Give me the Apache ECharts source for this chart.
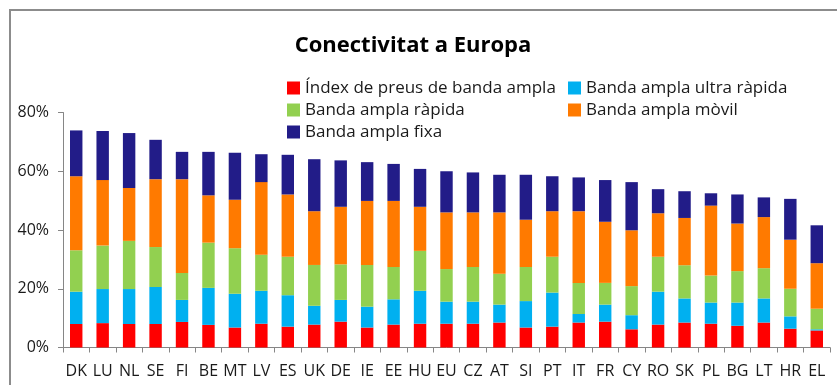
<!DOCTYPE html>
<html>
<head>
<meta charset="utf-8">
<script src="https://cdn.jsdelivr.net/npm/echarts@6/dist/echarts.min.js"></script>
<style>
  html, body { margin: 0; padding: 0; background: #fff; }
  #chart { width: 837px; height: 385px; }
</style>
</head>
<body>
<div id="chart"></div>
<script>
// Countries, ordered by total score
var countries = ['DK','LU','NL','SE','FI','BE','MT','LV','ES','UK','DE','IE','EE','HU','EU','CZ','AT','SI','PT','IT','FR','CY','RO','SK','PL','BG','LT','HR','EL'];

// Stacked components (percentage points)
var indexPreus   = [8.0, 8.3, 8.0, 8.0, 8.7, 7.7, 6.8, 8.1, 7.1, 7.8, 8.8, 6.8, 7.8, 8.1, 8.1, 8.1, 8.5, 6.8, 7.1, 8.5, 8.8, 6.2, 7.8, 8.5, 8.1, 7.4, 8.5, 6.4, 5.8];
var ultraRapida  = [11.0, 11.6, 11.9, 12.6, 7.5, 12.6, 11.5, 11.2, 10.7, 6.4, 7.4, 7.1, 8.6, 11.2, 7.5, 7.5, 6.1, 9.0, 11.6, 2.9, 5.8, 4.8, 11.2, 8.2, 7.2, 7.9, 8.2, 4.2, 0.4];
var rapida       = [14.1, 14.8, 16.4, 13.6, 9.2, 15.4, 15.5, 12.3, 13.1, 13.9, 12.1, 14.2, 11.0, 13.6, 11.1, 11.8, 10.5, 11.6, 12.2, 10.6, 7.4, 9.9, 11.9, 11.3, 9.2, 10.7, 10.3, 9.4, 7.0];
var mobil        = [25.2, 22.3, 18.0, 23.1, 31.9, 16.1, 16.5, 24.7, 21.2, 18.3, 19.6, 21.8, 22.5, 15.0, 19.3, 18.6, 20.9, 16.1, 15.5, 24.4, 20.8, 19.0, 14.8, 16.1, 23.8, 16.2, 17.4, 16.7, 15.5];
var fixa         = [15.6, 16.7, 18.7, 13.4, 9.3, 14.8, 16.0, 9.5, 13.5, 17.7, 15.8, 13.2, 12.6, 12.9, 14.0, 13.6, 12.8, 15.3, 11.9, 11.5, 14.2, 16.4, 8.2, 9.1, 4.2, 9.9, 6.7, 13.9, 12.9];

var seriesNames = ['Índex de preus de banda ampla', 'Banda ampla ultra ràpida', 'Banda ampla ràpida', 'Banda ampla mòvil', 'Banda ampla fixa'];
var seriesColors = ['#FF0000', '#00B0F0', '#92D050', '#FF7A00', '#221C88'];
var seriesData = [indexPreus, ultraRapida, rapida, mobil, fixa];

var FONT = '"Open Sans", "Noto Sans", sans-serif';
var TEXT = '#1a1a1a';
var AXIS = '#868686';

var chart = echarts.init(document.getElementById('chart'), null, { renderer: 'canvas' });

var legendText = { fontFamily: FONT, fontSize: 17, color: TEXT, lineHeight: 18 };

chart.setOption({
  backgroundColor: '#ffffff',
  animation: false,
  title: {
    text: 'Conectivitat a Europa',
    left: 408,
    top: 30,
    textAlign: 'center',
    textStyle: { fontFamily: FONT, fontSize: 22, fontWeight: 'bold', color: '#000' }
  },
  graphic: [{
    type: 'rect',
    shape: { x: 10, y: 10, width: 900, height: 500 },
    style: { fill: 'none', stroke: '#8c8c8c', lineWidth: 2 },
    silent: true
  }],
  legend: [{
    orient: 'vertical',
    left: 282,
    top: 74,
    itemWidth: 13,
    itemHeight: 13,
    itemGap: 4,
    icon: 'rect',
    data: [seriesNames[0], seriesNames[2], seriesNames[4]],
    textStyle: legendText,
    selectedMode: false
  }, {
    orient: 'vertical',
    left: 563,
    top: 74,
    itemWidth: 13,
    itemHeight: 13,
    itemGap: 4,
    icon: 'rect',
    data: [seriesNames[1], seriesNames[3]],
    textStyle: legendText,
    selectedMode: false
  }],
  grid: {
    left: 63,
    right: 7,
    top: 112.5,
    bottom: 37.5,
    containLabel: false,
    outerBoundsMode: 'none'
  },
  xAxis: {
    type: 'category',
    data: countries,
    axisLine: { lineStyle: { color: AXIS, width: 1 } },
    axisTick: { show: true, alignWithLabel: false, length: 5, lineStyle: { color: AXIS } },
    axisLabel: { interval: 0, margin: 16, fontFamily: FONT, fontSize: 16, color: TEXT },
    splitLine: { show: false }
  },
  yAxis: {
    type: 'value',
    min: 0,
    max: 80,
    interval: 20,
    axisLine: { show: true, lineStyle: { color: AXIS, width: 1 } },
    axisTick: { show: true, length: 5, lineStyle: { color: AXIS } },
    axisLabel: { margin: 14, formatter: '{value}%', fontFamily: FONT, fontSize: 16, color: TEXT },
    splitLine: { show: false }
  },
  series: seriesNames.map(function (name, i) {
    return {
      name: name,
      type: 'bar',
      stack: 'total',
      barCategoryGap: '53%',
      itemStyle: { color: seriesColors[i] },
      data: seriesData[i]
    };
  })
});
</script>
</body>
</html>
